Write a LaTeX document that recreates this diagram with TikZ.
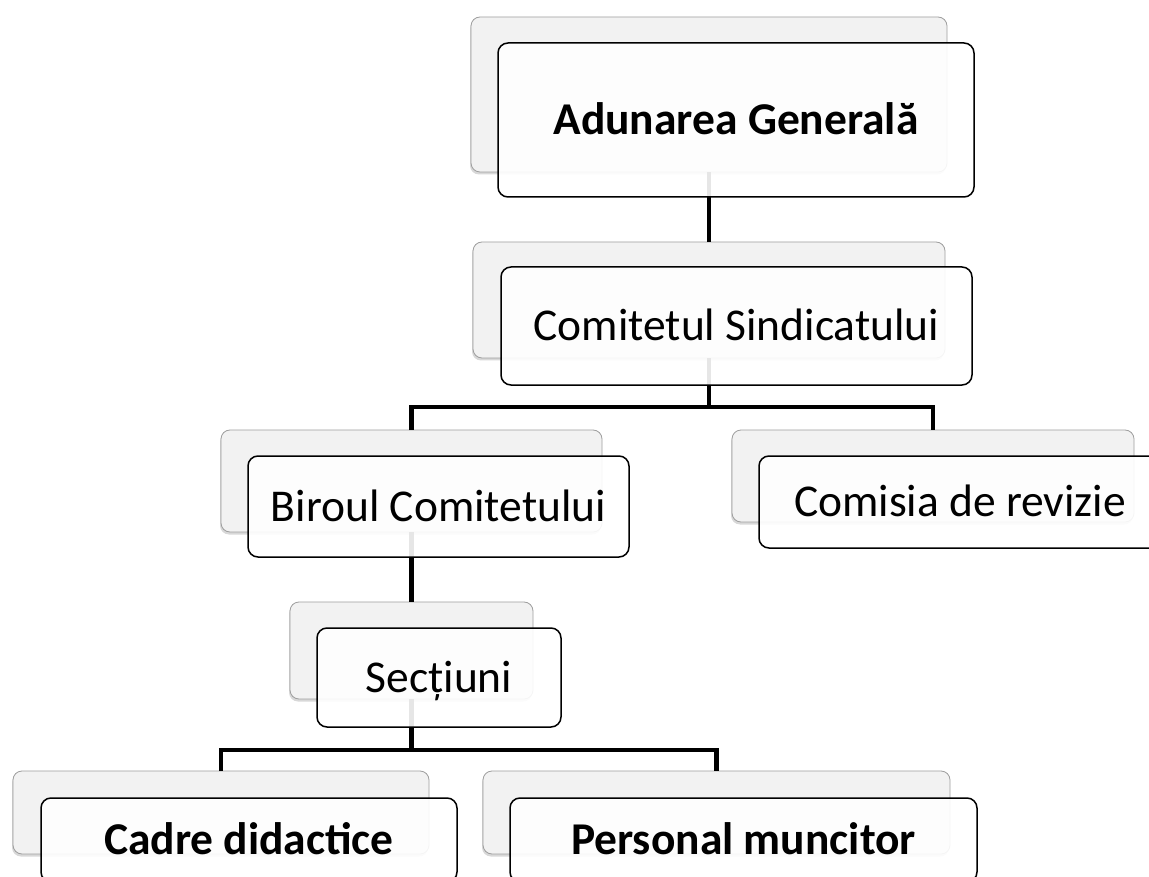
\documentclass[tikz,border=0pt]{standalone}
\usepackage{fontspec}
\setmainfont{Carlito}
\usetikzlibrary{shadows}
\begin{document}
\begin{tikzpicture}[x=1pt,y=-1pt,
  backbox/.style={draw=black!38, line width=0.8pt, fill=black!5, rounded corners=9pt,
    inner sep=0pt, outer sep=0pt,
    drop shadow={shadow xshift=-1pt, shadow yshift=-2.5pt, opacity=0.3}},
  frontbox/.style={draw=black, line width=1.5pt, fill=white, fill opacity=0.9, text opacity=1,
    rounded corners=10pt, inner sep=0pt, outer sep=0pt,
    font=\fontsize{45.5}{52}\selectfont, text height=29pt, text depth=0pt},
  boldtext/.style={font=\fontsize{45.5}{52}\selectfont\bfseries},
  conn/.style={draw=black, line width=4.2pt}]
\useasboundingbox (0,0) rectangle (1149,877);
\clip (0,0) rectangle (1149,877);
\fill[white] (0,0) rectangle (1149,877);
% back layer
\node[backbox, minimum width=476pt, minimum height=155pt] (a0) at (709,94.5) {};
\node[backbox, minimum width=472pt, minimum height=116pt] (b0) at (709,300) {};
\node[backbox, minimum width=381pt, minimum height=102pt] (c0) at (411.5,481) {};
\node[backbox, minimum width=402pt, minimum height=92pt] (d0) at (933,476) {};
\node[backbox, minimum width=243pt, minimum height=97pt] (e0) at (411.5,650.5) {};
\node[backbox, minimum width=416pt, minimum height=83pt] (f0) at (221,812.5) {};
\node[backbox, minimum width=467pt, minimum height=83pt] (g0) at (716.5,812.5) {};
% connectors
\draw[conn] (a0.south) -- (b0.north);
\draw[conn] (b0.south) -- ++(0,49) coordinate (j1);
\draw[conn] (c0.north) |- (j1) -| (d0.north);
\draw[conn] (c0.south) -- (e0.north);
\draw[conn] (e0.south) -- ++(0,51) coordinate (j2);
\draw[conn] (f0.north) |- (j2) -| (g0.north);
% front layer
\node[frontbox, boldtext, minimum width=476pt, minimum height=154pt] (a) at (736,120) {Adunarea Generală};
\node[frontbox, minimum width=471pt, minimum height=118pt] (b) at (736.5,326) {Comitetul Sindicatului};
\node[frontbox, minimum width=381pt, minimum height=101pt] (c) at (438.5,506.5) {Biroul Comitetului};
\node[frontbox, minimum width=402pt, minimum height=92pt] (d) at (960,502) {Comisia de revizie};
\node[frontbox, minimum width=244pt, minimum height=99pt] (e) at (439,677.5) {Secțiuni};
\node[frontbox, boldtext, minimum width=416pt, minimum height=84pt] (f) at (249,840) {Cadre didactice};
\node[frontbox, boldtext, minimum width=467pt, minimum height=84pt] (g) at (743.5,840) {Personal muncitor};
\end{tikzpicture}
\end{document}
